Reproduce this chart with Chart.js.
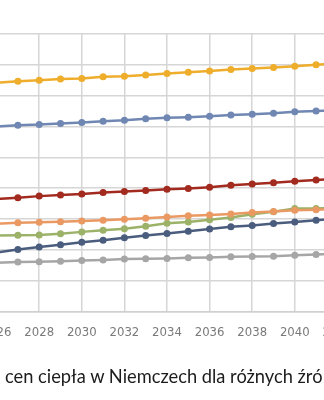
<!DOCTYPE html>
<html lang="pl">
<head>
    <meta charset="UTF-8">
    <meta name="viewport" content="width=device-width, initial-scale=1.0">
    <title>Ceny ciepła w Niemczech</title>
    <script src="https://cdn.jsdelivr.net/npm/chart.js"></script>
    <style>
        html, body {
            margin: 0;
            padding: 0;
            width: 324px;
            height: 400px;
            overflow: hidden;
            background: #ffffff;
        }
        #myChart {
            position: absolute;
            left: -46px;
            top: 0;
        }
        .caption {
            position: absolute;
            left: 5px;
            top: 366px;
            white-space: nowrap;
            font-family: Lato, sans-serif;
            font-size: 18.3px;
            line-height: 20px;
            color: #1c1c1c;
        }
    </style>
</head>
<body>

<canvas id="myChart" width="440" height="400"></canvas>
<div class="caption">cen ciepła w Niemczech dla różnych źró</div>

<script>
    // years visible in the cropped chart
    const years = [2026, 2027, 2028, 2029, 2030, 2031, 2032, 2033, 2034, 2035, 2036, 2037, 2038, 2039, 2040, 2041, 2042];

    // series values (arbitrary units: one gridline = 10)
    const seriesYellow = [74.2, 74.7, 75.0, 75.4, 75.6, 76.1, 76.3, 76.7, 77.2, 77.6, 78.0, 78.5, 78.8, 79.1, 79.5, 80.0, 80.4];
    const seriesBlue = [60.0, 60.4, 60.6, 61.0, 61.3, 61.7, 62.0, 62.5, 62.8, 63.0, 63.3, 63.7, 64.0, 64.3, 64.8, 65.0, 65.3];
    const seriesRed = [36.5, 36.9, 37.4, 37.8, 38.1, 38.6, 38.9, 39.2, 39.6, 39.9, 40.3, 40.9, 41.3, 41.7, 42.2, 42.6, 43.0];
    const seriesSalmon = [28.4, 28.8, 28.9, 29.1, 29.3, 29.6, 29.9, 30.2, 30.6, 31.0, 31.3, 31.6, 32.1, 32.4, 32.8, 33.0, 33.3];
    const seriesGreen = [24.6, 24.7, 24.8, 25.2, 25.8, 26.3, 26.8, 27.6, 28.6, 29.0, 29.7, 30.5, 31.5, 32.3, 33.4, 33.4, 33.6];
    const seriesNavy = [19.1, 20.1, 20.9, 21.6, 22.4, 23.1, 23.9, 24.6, 25.3, 26.0, 26.7, 27.5, 27.9, 28.5, 29.0, 29.6, 30.1];
    const seriesGray = [15.8, 16.0, 16.1, 16.3, 16.5, 16.7, 17.0, 17.1, 17.2, 17.4, 17.5, 17.7, 17.8, 17.9, 18.2, 18.5, 18.7];

    // x range of the whole (uncropped) plot, labels every 2 years
    const xMin = 2024;
    const xMax = 2044;

    function makeDataset(values, color) {
        return {
            data: years.map((y, i) => ({ x: y, y: values[i] })),
            borderColor: color,
            backgroundColor: color,
            borderWidth: 2.5,
            pointRadius: 3.5,
            pointBorderWidth: 0,
            pointBackgroundColor: color,
            pointBorderColor: color,
            tension: 0
        };
    }

    const ctx = document.getElementById('myChart').getContext('2d');

    new Chart(ctx, {
        type: 'line',
        data: {
            datasets: [
                makeDataset(seriesYellow, '#EFAD2C'),
                makeDataset(seriesBlue, '#6F87B2'),
                makeDataset(seriesRed, '#A22A1E'),
                makeDataset(seriesSalmon, '#EA9962'),
                makeDataset(seriesGreen, '#9CB268'),
                makeDataset(seriesNavy, '#4B5D7E'),
                makeDataset(seriesGray, '#A6A6A6')
            ]
        },
        options: {
            responsive: false,
            animation: false,
            layout: {
                autoPadding: false,
                padding: { top: 34, right: 14, bottom: 60, left: 0 }
            },
            plugins: {
                legend: { display: false },
                tooltip: { enabled: false }
            },
            scales: {
                x: {
                    type: 'linear',
                    min: xMin,
                    max: xMax,
                    grid: {
                        color: '#d6d6d6',
                        lineWidth: 1.5,
                        drawTicks: true,
                        tickLength: 13,
                        tickColor: 'rgba(0,0,0,0)'
                    },
                    border: { color: '#d0d0d0', width: 1.5 },
                    ticks: {
                        stepSize: 2,
                        padding: 0,
                        color: '#7a7a7a',
                        font: {
                            family: "'Liberation Sans Narrow', 'DejaVu Sans Condensed', 'Liberation Sans', sans-serif",
                            size: 13
                        },
                        callback: (v) => (v === xMin || v === xMax) ? '' : String(v)
                    }
                },
                y: {
                    min: 0,
                    max: 90,
                    grid: {
                        color: '#d6d6d6',
                        lineWidth: 1.5,
                        drawTicks: false
                    },
                    border: { display: false },
                    ticks: {
                        display: false,
                        stepSize: 10
                    }
                }
            }
        }
    });
</script>

</body>
</html>
